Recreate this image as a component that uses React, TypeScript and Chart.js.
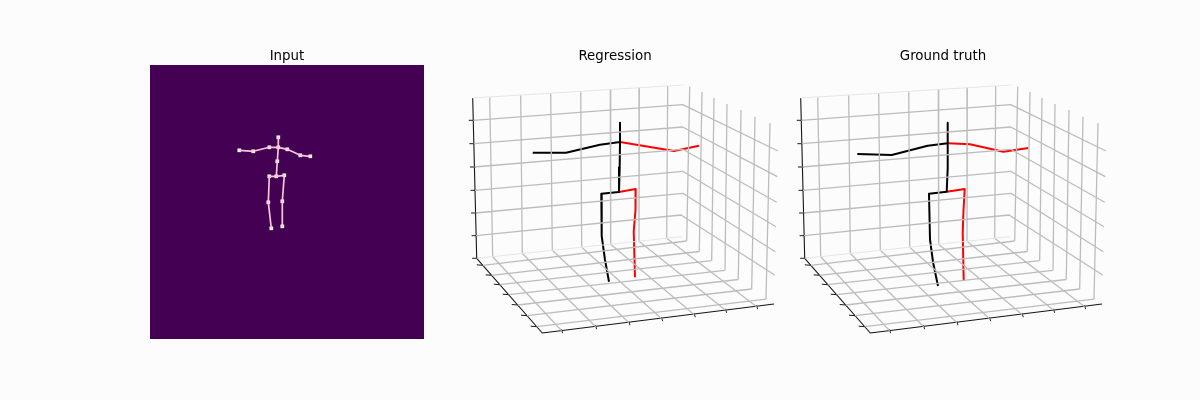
import React, { useEffect, useRef } from "react";
import { Chart, registerables } from "chart.js";

Chart.register(...registerables);

const FONT = "'DejaVu Sans'";

type P = [number, number];

// --- Input panel: 2D joints in image pixels ---
const imgTorso: P[] = [[128.3, 72.3], [128.3, 82.3], [127.3, 96.3], [126.3, 111.3]];
const imgArms: P[] = [[89.3, 85.3], [103.3, 86.3], [119.3, 82.3], [128.3, 82.3], [137.3, 84.3], [150.3, 90.3], [160.3, 91.3]];
const imgLegs: P[] = [[121.3, 163.3], [118.3, 137.3], [119.3, 111.3], [126.3, 111.3], [134.3, 110.3], [132.3, 136.3], [132.3, 161.3]];
const imgJoints: P[] = [
  [128.3, 72.3], [128.3, 82.3], [119.3, 82.3], [103.3, 86.3], [89.3, 85.3], [137.3, 84.3], [150.3, 90.3], [160.3, 91.3],
  [127.3, 96.3], [126.3, 111.3], [119.3, 111.3], [134.3, 110.3], [118.3, 137.3], [121.3, 163.3], [132.3, 136.3], [132.3, 161.3],
];

// --- 3D box as projected on the panels ---
const zLevelsBack: [P, P, P][] = [
  [[473.3, 120.3], [682.7, 104.7], [778, 151]],
  [[473.8, 143.7], [682.7, 127], [777.3, 176.7]],
  [[474.4, 167], [682.7, 149.3], [776.7, 202.3]],
  [[475, 190.3], [682.7, 171.3], [776, 226.7]],
  [[475.6, 213], [682.7, 193.3], [775.3, 251.7]],
  [[476.1, 235.7], [681, 215], [774.7, 275]],
];
const leftWallTop: P[] = [[489.7, 97.3], [520.7, 95], [550.7, 93.3], [580.7, 91.7], [610.3, 90], [639.3, 88], [667.7, 86]];
const floorBack: P[] = [[492.7, 256.7], [522.3, 253.5], [552.3, 250.3], [581.7, 247.3], [610.7, 244.2], [639, 241.2], [666.7, 238.2]];
const floorFront: P[] = [[561.7, 330.7], [595.7, 326.7], [629, 322.7], [661.7, 318.7], [694.3, 314.7], [725.7, 310.3], [756.7, 306.7]];
const rightWallTop: P[] = [[689.7, 86.7], [702, 92], [714, 98], [727, 104], [741, 110], [755, 116.7], [770, 123]];
const floorRight: P[] = [[686.7, 241], [699.3, 251.5], [711.7, 260.7], [725, 270.3], [738.3, 279.5], [751.7, 289], [766, 299.2]];
const floorLeft: P[] = [[482.8, 265.3], [491.7, 275.3], [499.8, 284.7], [508.7, 294.7], [517.7, 305], [527, 315.7], [536.7, 326.7]];
const zAxis: P[] = [[472.7, 98], [476.7, 258.3]];
const zTickEdge: P[] = [[473.3, 120.3], [473.8, 143.7], [474.4, 167], [475, 190.3], [475.6, 213], [476.1, 235.7], [476.7, 258.3]];
const floorEdges: P[] = [[476.7, 258.3], [542.3, 333], [774, 304]];
const paneEdges: P[][] = [
  [[472.7, 98], [683.5, 85]],
  [[476.7, 258.3], [681.7, 236.7]],
];

// --- Regression skeleton (projected) ---
const regBlackTorso: P[] = [[620, 122.7], [620, 142], [619.7, 167.3], [619, 192], [601.3, 193.7], [601.7, 236], [605, 260], [609, 281.7]];
const regBlackArm: P[] = [[532.7, 152.7], [566, 152.7], [600, 144.7], [620, 142]];
const regRedArm: P[] = [[620, 142], [674, 151], [699, 145.7]];
const regRedLeg: P[] = [[619, 192], [635.7, 189], [635.5, 210], [633.7, 231.7], [635, 277.3]];

// --- Ground-truth skeleton (projected, same box) ---
const gtBlackTorso: P[] = [[619.7, 122.7], [619.7, 143.3], [619.7, 168.3], [618.7, 191.7], [601, 193.7], [602, 239.3], [605, 262], [610, 286]];
const gtBlackArm: P[] = [[529.3, 154], [563.7, 155], [599.7, 145.7], [619.7, 143.3]];
const gtRedArm: P[] = [[619.7, 143.3], [642, 144.3], [675.3, 151.7], [700.3, 148]];
const gtRedLeg: P[] = [[618.7, 191.7], [636.7, 189], [635.5, 210], [634.7, 232.7], [635.7, 280.7]];

const GAP = { x: NaN, y: NaN };
const toPts = (list: P[]) => list.map(([x, y]) => ({ x, y }));
const join = (lists: P[][]) => {
  const out: { x: number; y: number }[] = [];
  lists.forEach((l) => {
    out.push(...toPts(l));
    out.push(GAP);
  });
  return out;
};
const pairs = (a: P[], b: P[]) => a.map((p, i) => [p, b[i]] as P[]);

const lineDs = (data: any[], color: string, width: number) => ({
  type: "scatter" as const,
  data,
  showLine: true,
  spanGaps: false,
  borderColor: color,
  borderWidth: width,
  pointRadius: 0,
  tension: 0,
  clip: false as any,
  borderJoinStyle: "round" as const,
});

const boxDatasets = () => [
  lineDs(join(paneEdges), "#e6e6e6", 1),
  lineDs(
    join([
      ...zLevelsBack.map((l) => l as P[]),
      ...pairs(leftWallTop, floorBack),
      ...pairs(floorBack, floorFront),
      ...pairs(rightWallTop, floorRight),
      ...pairs(floorLeft, floorRight),
    ]),
    "#bcbcbc",
    1.3
  ),
  lineDs(join([zAxis, floorEdges]), "#141414", 1.1),
  lineDs(
    join([
      ...zTickEdge.map(([x, y]) => [[x - 4.5, y], [x + 1.5, y]] as P[]),
      ...floorLeft.map(([x, y]) => [[x - 6, y - 0.5], [x, y]] as P[]),
      ...floorFront.map(([x, y]) => [[x - 0.4, y - 1.5], [x + 1, y + 2.5]] as P[]),
    ]),
    "#1a1a1a",
    1
  ),
];

const baseOptions = (title: string, x: [number, number], y: [number, number]): any => ({
  responsive: false,
  animation: false,
  layout: { padding: 0, autoPadding: false },
  plugins: {
    legend: { display: false },
    tooltip: { enabled: false },
    title: {
      display: true,
      text: title,
      color: "#000000",
      font: { family: FONT, size: 13.4, weight: "normal", lineHeight: 1.2 },
      padding: { top: 8, bottom: 0.92 },
    },
  },
  scales: {
    x: { type: "linear", display: false, min: x[0], max: x[1] },
    y: { type: "linear", display: false, min: y[0], max: y[1], reverse: true },
  },
});

const imageFill = {
  id: "imageFill",
  beforeDatasetsDraw(chart: any) {
    const { ctx, chartArea: a } = chart;
    ctx.save();
    ctx.fillStyle = "#440154";
    ctx.fillRect(a.left, a.top, a.right - a.left, a.bottom - a.top);
    ctx.restore();
  },
};

const PANE_X: [number, number] = [450, 780];
const PANE_Y: [number, number] = [65, 340];

export default function App() {
  const inputRef = useRef<HTMLCanvasElement>(null);
  const regRef = useRef<HTMLCanvasElement>(null);
  const gtRef = useRef<HTMLCanvasElement>(null);

  useEffect(() => {
    const marker = (color: string, radius: number) => ({
      type: "scatter" as const,
      data: toPts(imgJoints),
      pointStyle: "rect",
      pointRadius: radius,
      pointBackgroundColor: color,
      pointBorderWidth: 0,
      showLine: false,
    });
    const charts = [
      new Chart(inputRef.current!, {
        type: "scatter",
        data: {
          datasets: [
            lineDs(join([imgTorso, imgArms, imgLegs]), "#f7c6d6", 1.7),
            marker("#ffffff", 2.6),
            marker("#e8302a", 1),
          ] as any,
        },
        options: baseOptions("Input", [0, 274], [0, 274]),
        plugins: [imageFill],
      }),
      new Chart(regRef.current!, {
        type: "scatter",
        data: {
          datasets: [
            ...boxDatasets(),
            lineDs(join([regBlackTorso, regBlackArm]), "#000000", 2),
            lineDs(join([regRedArm, regRedLeg]), "#ff0000", 2),
          ] as any,
        },
        options: baseOptions("Regression", PANE_X, PANE_Y),
      }),
      new Chart(gtRef.current!, {
        type: "scatter",
        data: {
          datasets: [
            ...boxDatasets(),
            lineDs(join([gtBlackTorso, gtBlackArm]), "#000000", 2),
            lineDs(join([gtRedArm, gtRedLeg]), "#ff0000", 2),
          ] as any,
        },
        options: baseOptions("Ground truth", PANE_X, PANE_Y),
      }),
    ];
    return () => charts.forEach((c) => c.destroy());
  }, []);

  const abs = (left: number, top: number): React.CSSProperties => ({ position: "absolute", left, top, display: "block" });

  return (
    <div style={{ position: "absolute", left: 0, top: 0, width: 1200, height: 400, background: "#fcfcfc", overflow: "hidden" }}>
      <canvas ref={inputRef} width={274} height={299} style={abs(150, 40)} />
      <canvas ref={regRef} width={330} height={300} style={abs(450, 40)} />
      <canvas ref={gtRef} width={330} height={300} style={abs(778, 40)} />
    </div>
  );
}
